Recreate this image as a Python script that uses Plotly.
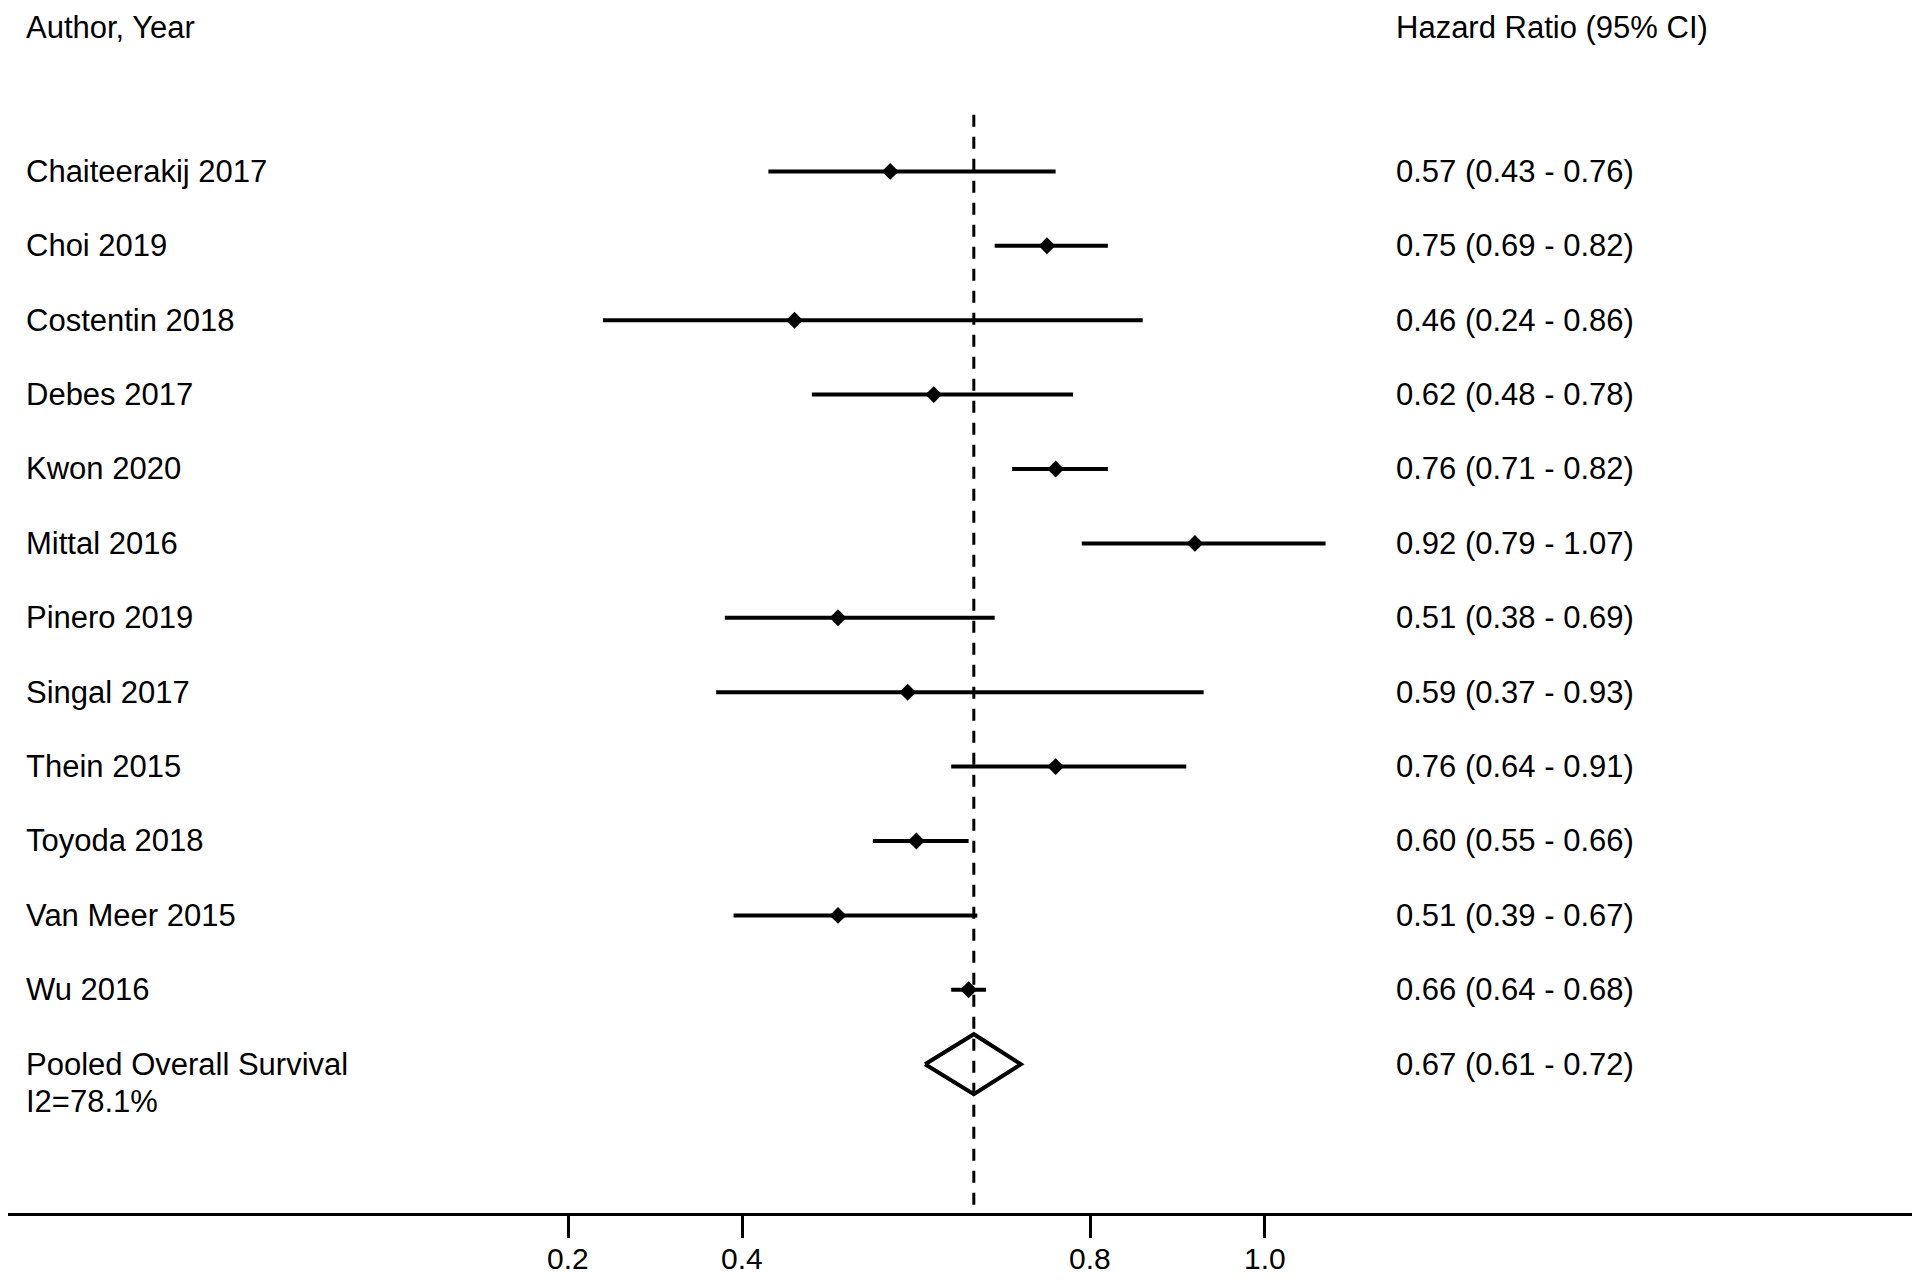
import plotly.graph_objects as go

# ---------------- data ----------------
studies = ["Chaiteerakij 2017", "Choi 2019", "Costentin 2018", "Debes 2017",
           "Kwon 2020", "Mittal 2016", "Pinero 2019", "Singal 2017",
           "Thein 2015", "Toyoda 2018", "Van Meer 2015", "Wu 2016"]
hr = [0.57, 0.75, 0.46, 0.62, 0.76, 0.92, 0.51, 0.59, 0.76, 0.60, 0.51, 0.66]
ci_low = [0.43, 0.69, 0.24, 0.48, 0.71, 0.79, 0.38, 0.37, 0.64, 0.55, 0.39, 0.64]
ci_high = [0.76, 0.82, 0.86, 0.78, 0.82, 1.07, 0.69, 0.93, 0.91, 0.66, 0.67, 0.68]

pooled_name = "Pooled Overall Survival"
pooled_i2 = "I2=78.1%"
pooled_hr = 0.666
pooled_low = 0.61
pooled_high = 0.72
pooled_label = "0.67 (0.61 - 0.72)"

header_left = "Author, Year"
header_right = "Hazard Ratio (95% CI)"
tick_vals = [0.2, 0.4, 0.8, 1.0]
tick_text = ["0.2", "0.4", "0.8", "1.0"]

# ---------------- layout constants ----------------
# (page body has an 8px margin; the figure is sized to fit the viewport)
W, H = 1912, 1272
ML, MR, MT, MB = 0, 7, 0, 67
PW = W - ML - MR
PH = H - MT - MB
FONT = "Liberation Sans, Arial, Helvetica, sans-serif"
FS = 31
TICK_FS = 30
left_x_px = 16
right_x_px = 1386
x_range = [-0.4434, 1.7448]
y_range = [14.0, -2.196]
header_row = -1.94
dash_top_row = -0.76
diamond_half = 0.403
tick_label_offset_px = 45


def paper_x(px):
    return (px - ML) / PW


n = len(studies)
rows = list(range(n))
pooled_row = n

fig = go.Figure()

# CI lines
xs, ys = [], []
for r, lo, hi in zip(rows, ci_low, ci_high):
    xs += [lo, hi, None]
    ys += [r, r, None]
fig.add_trace(go.Scatter(x=xs, y=ys, mode="lines",
                         line=dict(color="black", width=4),
                         hoverinfo="skip", showlegend=False))

# point estimates
fig.add_trace(go.Scatter(x=hr, y=rows, mode="markers",
                         marker=dict(symbol="diamond", size=13, color="black"),
                         showlegend=False))

# pooled diamond
fig.add_trace(go.Scatter(
    x=[pooled_low, pooled_hr, pooled_high, pooled_hr, pooled_low],
    y=[pooled_row, pooled_row - diamond_half, pooled_row,
       pooled_row + diamond_half, pooled_row],
    mode="lines", line=dict(color="black", width=4),
    showlegend=False, hoverinfo="skip"))

# reference dashed line at pooled estimate
fig.add_shape(type="line", xref="x", yref="y",
              x0=pooled_hr, x1=pooled_hr, y0=dash_top_row, y1=y_range[0],
              line=dict(color="black", width=3, dash="12px,10px"),
              layer="below")


def add_text(px, row, text):
    fig.add_annotation(xref="paper", yref="y", x=paper_x(px), y=row,
                       text=text, showarrow=False, xanchor="left",
                       yanchor="middle", font=dict(family=FONT, size=FS,
                                                   color="black"))


add_text(left_x_px, header_row, header_left)
add_text(right_x_px, header_row, header_right)
for r, name, h, lo, hi in zip(rows, studies, hr, ci_low, ci_high):
    add_text(left_x_px, r, name)
    add_text(right_x_px, r, f"{h:.2f} ({lo:.2f} - {hi:.2f})")
add_text(left_x_px, pooled_row, pooled_name)
add_text(left_x_px, pooled_row + 0.5, pooled_i2)
add_text(right_x_px, pooled_row, pooled_label)

# x tick labels
for tv, tt in zip(tick_vals, tick_text):
    fig.add_annotation(xref="x", yref="paper", x=tv,
                       y=-tick_label_offset_px / PH, text=tt,
                       showarrow=False, xanchor="center", yanchor="middle",
                       font=dict(family=FONT, size=TICK_FS, color="black"))

fig.update_layout(
    width=W, height=H,
    margin=dict(l=ML, r=MR, t=MT, b=MB, pad=0),
    paper_bgcolor="white", plot_bgcolor="white",
    font=dict(family=FONT, size=FS, color="black"),
    showlegend=False,
    xaxis=dict(range=x_range, showgrid=False, zeroline=False,
               showline=True, linecolor="black", linewidth=3,
               ticks="outside", ticklen=22, tickwidth=3, tickcolor="black",
               tickvals=tick_vals, showticklabels=False,
               fixedrange=True),
    yaxis=dict(range=y_range, visible=False, showgrid=False,
               zeroline=False, fixedrange=True),
)

fig.write_html("out.html")
